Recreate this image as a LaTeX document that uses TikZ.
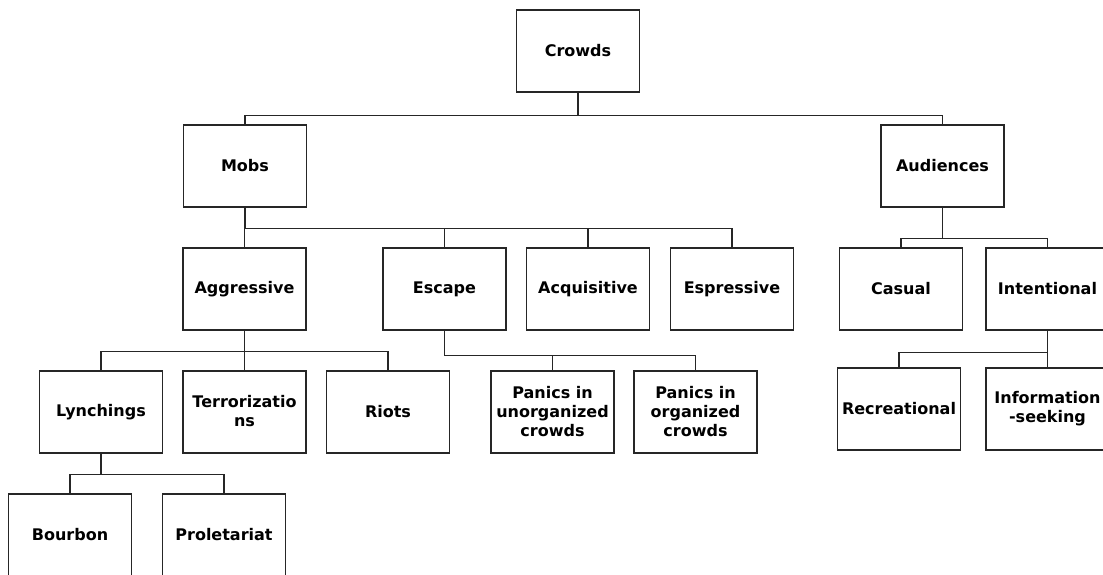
\documentclass[tikz,border=0pt]{standalone}
\usepackage{fontspec}
\setmainfont{DejaVu Sans}
% invisible rules that fix the first line's height and the last line's depth
\newcommand{\topstrut}{\rule{0pt}{13pt}}
\newcommand{\botstrut}{\rule[-1.5pt]{0pt}{1.5pt}}
\begin{document}
\begin{tikzpicture}[x=1pt,y=-1pt,
  box/.style={draw=black!85, line width=1.3pt, minimum width=123pt, minimum height=82pt,
    inner sep=0pt, align=center, font=\fontsize{16}{19}\selectfont\bfseries,
    execute at begin node=\topstrut, execute at end node=\botstrut},
  link/.style={draw=black!85, line width=1.3pt}]
\useasboundingbox (0,0) rectangle (1103,575);
\clip (0,0) rectangle (1103,575);

% top levels
\node[box] (crowds) at (578,51) {Crowds};
\node[box] (mobs) at (245,166) {Mobs};
\node[box] (aud) at (942.5,166) {Audiences};

% kinds of mobs
\node[box] (aggr) at (244.5,289) {Aggressive};
\node[box] (esc) at (444.5,289) {Escape};
\node[box] (acq) at (588,289) {Acquisitive};
\node[box] (expr) at (732,289) {Espressive};

% kinds of audiences
\node[box] (cas) at (901,289) {Casual};
\node[box] (inten) at (1047.5,289) {Intentional};

% aggressive mobs
\node[box] (lynch) at (101,412) {Lynchings};
\node[box] (terr) at (244.5,412) {Terrorizatio\\ns};
\node[box] (riots) at (388,412) {Riots};

% escape mobs
\node[box] (unorg) at (552.5,412) {Panics in\\unorganized\\crowds};
\node[box] (org) at (695.5,412) {Panics in\\organized\\crowds};

% intentional audiences
\node[box] (recr) at (899,409) {Recreational};
\node[box] (info) at (1047.5,409) {Information\\-seeking};

% lynchings
\node[box] (bourbon) at (70,535) {Bourbon};
\node[box] (prole) at (224,535) {Proletariat};

% connectors
\foreach \c in {mobs,aud}
  \draw[link] (crowds.south) -- ++(0,23) -| (\c.north);
\foreach \c in {aggr,esc,acq,expr}
  \draw[link] (mobs.south) -- ++(0,21) -| (\c.north);
\foreach \c in {cas,inten}
  \draw[link] (aud.south) -- ++(0,31) -| (\c.north);
\foreach \c in {lynch,terr,riots}
  \draw[link] (aggr.south) -- ++(0,21) -| (\c.north);
\foreach \c in {unorg,org}
  \draw[link] (esc.south) -- ++(0,25) -| (\c.north);
\foreach \c in {recr,info}
  \draw[link] (inten.south) -- ++(0,22) -| (\c.north);
\foreach \c in {bourbon,prole}
  \draw[link] (lynch.south) -- ++(0,21) -| (\c.north);
\end{tikzpicture}
\end{document}
